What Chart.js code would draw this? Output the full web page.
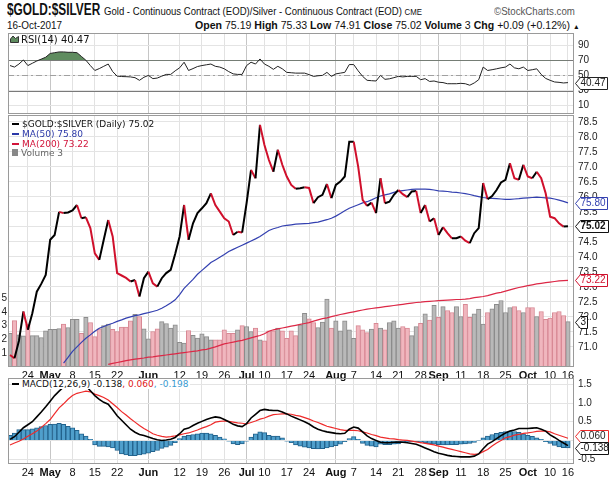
<!DOCTYPE html>
<html>
<head>
<meta charset="utf-8">
<script src="https://cdn.jsdelivr.net/npm/chart.js@4.4.1/dist/chart.umd.min.js"></script>
<style>
  body { margin: 0; width: 616px; height: 482px; position: relative; overflow: hidden; background: #fff; color: #111;
         font-family: 'Liberation Sans', Arial, sans-serif; }
  canvas { position: absolute; left: 0; }
  .txt { position: absolute; white-space: nowrap; }
  .lg { position: absolute; left: 12px; white-space: nowrap; font: 9px 'DejaVu Sans', sans-serif; line-height: 10px; }
  .ic { display: inline-block; width: 7px; height: 2px; vertical-align: middle; margin: -1px 3px 0 0; }
  .tag { position: absolute; white-space: nowrap; font: 10px 'Liberation Sans', Arial, sans-serif; line-height: 12px; }
</style>
</head>
<body>
<canvas id="rsi" width="616" height="82" style="top:32px"></canvas>
<canvas id="main" width="616" height="268" style="top:113px"></canvas>
<canvas id="macd" width="616" height="102" style="top:376px"></canvas>

<div class="txt" style="left:7px;top:1px;font-size:16px;font-weight:bold;transform:scaleX(0.74);transform-origin:0 0">$GOLD:$SILVER</div>
<div class="txt" style="left:104px;top:5px;font-size:11px;transform:scaleX(0.87);transform-origin:0 0">Gold - Continuous Contract (EOD)/Silver - Continuous Contract (EOD) <span style="font-size:9px">CME</span></div>
<div class="txt" style="right:41px;top:5px;font-size:11px;color:#555;transform:scaleX(0.88);transform-origin:100% 0">©StockCharts.com</div>
<div class="txt" style="left:7px;top:19px;font-size:11px;transform:scaleX(0.9);transform-origin:0 0">16-Oct-2017</div>
<div class="txt" style="right:36px;top:19px;font-size:11px;transform:scaleX(0.96);transform-origin:100% 0"><b>Open</b> 75.19 <b>High</b> 75.33 <b>Low</b> 74.91 <b>Close</b> 75.02 <b>Volume</b> 3 <b>Chg</b> +0.09 (+0.12%) <span style="font-size:7px">▲</span></div>

<div class="lg" style="left:10px;top:35px;font-size:10px"><svg width="9" height="8" style="margin-right:2px"><path d="M0.5 7.5 L0.5 4 L3 1 L5.5 3.5 L8.5 1.5 L8.5 7.5Z" fill="#5f8c5f" stroke="#333" stroke-width="1"/></svg>RSI(14) 40.47</div>

<div class="lg" style="top:119px"><span class="ic" style="background:#000"></span>$GOLD:$SILVER (Daily) 75.02</div>
<div class="lg" style="top:129px;color:#2b38a8"><span class="ic" style="background:#2b38a8"></span>MA(50) 75.80</div>
<div class="lg" style="top:139px;color:#d2143a"><span class="ic" style="background:#d2143a"></span>MA(200) 73.22</div>
<div class="lg" style="top:148px;color:#666"><span class="ic" style="background:#888;width:6px;height:7px;margin-top:-3px"></span>Volume 3</div>

<div class="lg" style="top:379px;background:#fff;padding-right:2px"><span class="ic" style="background:#000"></span>MACD(12,26,9) -0.138<span style="color:#e01818">, 0.060</span><span style="color:#3a9ad0">, -0.198</span></div>

<script>
// trading days shown on the chart
const monthNames = ['Apr', 'May', 'Jun', 'Jul', 'Aug', 'Sep', 'Oct'];
const monthDays = [
  [18, 19, 20, 21, 24, 25, 26, 27, 28],
  [1, 2, 3, 4, 5, 8, 9, 10, 11, 12, 15, 16, 17, 18, 19, 22, 23, 24, 25, 26, 30, 31],
  [1, 2, 5, 6, 7, 8, 9, 12, 13, 14, 15, 16, 19, 20, 21, 22, 23, 26, 27, 28, 29, 30],
  [3, 5, 6, 7, 10, 11, 12, 13, 14, 17, 18, 19, 20, 21, 24, 25, 26, 27, 28, 31],
  [1, 2, 3, 4, 7, 8, 9, 10, 11, 14, 15, 16, 17, 18, 21, 22, 23, 24, 25, 28, 29, 30, 31],
  [1, 5, 6, 7, 8, 11, 12, 13, 14, 15, 18, 19, 20, 21, 22, 25, 26, 27, 28, 29],
  [2, 3, 4, 5, 6, 10, 11, 12, 13, 16]
];
const dates = monthNames.flatMap((m, k) => monthDays[k].map(d => m + ' ' + d));

const tickDates = ['Apr 24', 'May 1', 'May 8', 'May 15', 'May 22', 'Jun 1', 'Jun 12', 'Jun 19', 'Jun 26',
  'Jul 3', 'Jul 10', 'Jul 17', 'Jul 24', 'Aug 1', 'Aug 7', 'Aug 14', 'Aug 21', 'Aug 28',
  'Sep 1', 'Sep 11', 'Sep 18', 'Sep 25', 'Oct 2', 'Oct 10', 'Oct 16'];
const tickTexts = ['24', 'May', '8', '15', '22', 'Jun', '12', '19', '26', 'Jul', '10', '17', '24', 'Aug',
  '7', '14', '21', '28', 'Sep', '11', '18', '25', 'Oct', '10', '16'];

const priceTicks = [71.0, 71.5, 72.0, 72.5, 73.0, 73.5, 74.0, 74.5, 75.0, 75.5, 76.0, 76.5, 77.0, 77.5, 78.0, 78.5];
const volTicks = [1, 2, 3, 4, 5];
const rsiTicks = [10, 30, 50, 70, 90];
const macdTicks = [-0.5, 0, 0.5, 1.0, 1.5];

const closes = [
  70.73, 70.62, 71.2, 72.18, 71.57, 72.12, 72.84, 73.1, 73.4, 74.57,
  74.73, 75.5, 75.46, 75.48, 75.55, 75.73, 75.29, 75.32, 74.96, 74.12,
  73.9, 74.57, 75.23, 74.68, 73.46, 73.38, 73.3, 73.18, 73.23, 72.68,
  73.29, 73.51, 73.12, 73.01, 73.29, 73.46, 73.57, 74.1, 74.68, 75.73,
  74.57, 75.12, 75.46, 75.62, 75.79, 76.12, 75.73, 75.51, 75.29, 75.18,
  74.73, 74.84, 74.81, 75.79, 76.9, 76.62, 78.4, 77.73, 77.23, 76.84,
  77.57, 77.07, 76.68, 76.4, 76.27, 76.29, 76.32, 76.3, 75.79, 75.99,
  76.07, 76.43, 75.96, 76.4, 76.51, 76.68, 77.84, 77.84, 77.01, 75.9,
  75.7, 75.81, 75.46, 76.62, 75.79, 75.84, 76.07, 76.23, 76.09, 75.99,
  76.18, 76.2, 75.46, 75.73, 75.18, 75.29, 74.73, 74.99, 74.79, 74.62,
  74.62, 74.68, 74.54, 74.46, 74.79, 74.96, 76.46, 75.92, 76.03, 76.23,
  76.48, 76.57, 77.12, 76.62, 76.57, 77.07, 76.68, 76.62, 76.84, 76.62,
  76.12, 75.34, 75.29, 75.12, 75.01, 75.02
];
const ma50 = [
  null, null, null, null, null, null, null, null, null, null,
  null, null, 70.46, 70.65, 70.85, 71.0, 71.15, 71.29, 71.4, 71.52,
  71.62, 71.68, 71.74, 71.79, 71.85, 71.9, 71.96, 72.0, 72.04, 72.07,
  72.11, 72.14, 72.18, 72.22, 72.29, 72.37, 72.46, 72.57, 72.74, 72.95,
  73.1, 73.25, 73.42, 73.55, 73.68, 73.81, 73.9, 73.99, 74.08, 74.18,
  74.25, 74.32, 74.39, 74.46, 74.53, 74.6, 74.68, 74.78, 74.88, 74.94,
  74.98, 75.03, 75.05, 75.07, 75.09, 75.1, 75.11, 75.12, 75.14, 75.16,
  75.2, 75.24, 75.29, 75.36, 75.45, 75.54, 75.62, 75.68, 75.74, 75.8,
  75.84, 75.9, 75.97, 76.03, 76.07, 76.1, 76.15, 76.19, 76.21, 76.23,
  76.25, 76.26, 76.26, 76.26, 76.25, 76.23, 76.2, 76.19, 76.18, 76.16,
  76.15, 76.13, 76.11, 76.08, 76.04, 76.01, 75.98, 75.96, 75.95, 75.94,
  75.93, 75.92, 75.92, 75.93, 75.94, 75.96, 75.97, 75.98, 75.99, 75.98,
  75.97, 75.96, 75.93, 75.89, 75.85, 75.8
];
const ma200 = [
  null, null, null, null, null, null, null, null, null, null,
  null, null, null, null, null, null, null, null, null, null,
  null, null, 70.42, 70.45, 70.48, 70.51, 70.54, 70.57, 70.59, 70.61,
  70.63, 70.66, 70.67, 70.69, 70.71, 70.73, 70.75, 70.77, 70.79, 70.81,
  70.83, 70.85, 70.87, 70.9, 70.92, 70.96, 71.0, 71.05, 71.1, 71.13,
  71.16, 71.19, 71.22, 71.26, 71.3, 71.34, 71.38, 71.44, 71.52, 71.57,
  71.6, 71.63, 71.66, 71.69, 71.72, 71.75, 71.78, 71.81, 71.86, 71.9,
  71.94, 71.97, 72.01, 72.04, 72.08, 72.11, 72.14, 72.17, 72.2, 72.23,
  72.26, 72.28, 72.3, 72.32, 72.34, 72.36, 72.38, 72.4, 72.42, 72.44,
  72.46, 72.48, 72.49, 72.51, 72.52, 72.53, 72.54, 72.55, 72.56, 72.57,
  72.58, 72.58, 72.59, 72.61, 72.64, 72.66, 72.68, 72.71, 72.75, 72.79,
  72.82, 72.86, 72.9, 72.94, 72.98, 73.01, 73.04, 73.07, 73.1, 73.12,
  73.14, 73.16, 73.18, 73.2, 73.21, 73.22
];
const volumes = [
  2.45, 3.37, 2.33, 2.26, 3.11, 2.28, 2.28, 2.14, 2.62, 2.74,
  2.74, 2.79, 3.11, 2.87, 3.47, 3.47, 2.45, 3.6, 3.23, 2.21,
  2.77, 3.01, 3.11, 2.74, 2.58, 2.89, 2.89, 3.35, 3.83, 3.67,
  2.77, 2.04, 2.58, 2.77, 3.3, 3.16, 2.82, 3.06, 1.8, 1.73,
  2.65, 2.3, 2.1, 2.4, 2.21, 1.97, 1.97, 1.97, 2.7, 2.45,
  2.45, 2.7, 3.01, 2.94, 2.58, 2.82, 1.97, 1.9, 2.62, 2.62,
  2.82, 2.62, 2.09, 2.62, 2.28, 3.06, 3.89, 3.5, 3.23, 2.87,
  3.26, 4.93, 2.82, 3.35, 2.62, 3.35, 2.7, 2.09, 3.01, 2.7,
  2.5, 2.76, 3.18, 2.82, 2.7, 3.23, 3.35, 2.82, 2.94, 2.82,
  2.28, 2.94, 3.18, 3.86, 3.4, 4.47, 3.6, 4.39, 4.1, 3.96,
  4.39, 3.67, 4.55, 3.6, 3.86, 4.2, 3.11, 3.96, 4.22, 4.55,
  4.83, 3.96, 4.32, 4.39, 4.1, 3.96, 4.32, 4.32, 3.67, 4.03,
  3.47, 3.55, 3.96, 4.03, 3.74, 3.3
];
const rsi = [
  63, 61, 65, 70.4, 63, 66, 69, 71.5, 74, 79,
  80, 81, 81, 80.5, 80.5, 80, 75, 70, 63, 56.5,
  59, 62, 65, 55, 49, 48.5, 48.3, 48, 47, 43.5,
  47.5, 50, 45.7, 46.5, 49, 51.3, 51.3, 56, 60, 67.4,
  56.5, 59, 61.7, 63, 64, 65, 62, 61, 58.7, 55,
  52, 51.3, 51.3, 63, 67.4, 65, 71.7, 65, 62, 58,
  62, 58.7, 54, 53.5, 53, 53, 53, 51, 48.7, 49.5,
  50, 54, 48.7, 52, 53, 54, 64.3, 64.3, 56, 48.7,
  43.5, 43, 42.6, 50, 44.8, 45.5, 47, 48.7, 48, 48.7,
  48.7, 48.7, 44.3, 45.7, 42, 42.6, 41, 40.5, 39, 39,
  39, 39.5, 39, 37, 40, 44.3, 61, 56.5, 57.5, 58.7,
  60, 61, 65, 60, 58.7, 61, 56.5, 57.5, 58.7, 51.3,
  46, 43.5, 41.3, 40.8, 40, 40.47
];
const macd = [
  0.03, 0.1, 0.22, 0.34, 0.42, 0.5, 0.63, 0.76, 0.9, 1.05,
  1.2, 1.32, 1.43, 1.53, 1.6, 1.6, 1.55, 1.46, 1.33, 1.2,
  1.1, 1.02, 0.97, 0.82, 0.66, 0.54, 0.42, 0.3, 0.22, 0.16,
  0.13, 0.09, 0.05, 0.02, 0.0, 0.01, 0.03, 0.08, 0.18, 0.3,
  0.33, 0.4, 0.46, 0.51, 0.56, 0.6, 0.63, 0.61, 0.56, 0.5,
  0.43, 0.39, 0.37, 0.45, 0.6, 0.7, 0.8, 0.83, 0.81, 0.8,
  0.8, 0.76, 0.71, 0.65, 0.6, 0.55, 0.5, 0.44, 0.36, 0.3,
  0.26, 0.23, 0.21, 0.19, 0.18, 0.19, 0.3, 0.36, 0.33, 0.23,
  0.12, 0.05, 0.0, -0.05, -0.06, -0.06, -0.05, -0.04, -0.05, -0.06,
  -0.08, -0.1, -0.15, -0.2, -0.25, -0.3, -0.34, -0.37, -0.4, -0.42,
  -0.43, -0.44, -0.44, -0.44, -0.42, -0.36, -0.22, -0.1, -0.03, 0.05,
  0.13, 0.2, 0.25, 0.28, 0.32, 0.32, 0.32, 0.33, 0.34, 0.3,
  0.25, 0.15, 0.08, 0.0, -0.07, -0.138
];
const signal = [
  -0.12, -0.07, -0.02, 0.04, 0.11, 0.18, 0.25, 0.35, 0.45, 0.56,
  0.72, 0.87, 0.98, 1.1, 1.2, 1.26, 1.29, 1.32, 1.3, 1.24,
  1.2, 1.15, 1.08, 0.98, 0.88, 0.77, 0.68, 0.58, 0.49, 0.4,
  0.32, 0.25, 0.18, 0.14, 0.11, 0.09, 0.1, 0.12, 0.15, 0.18,
  0.2, 0.24, 0.28, 0.33, 0.37, 0.42, 0.49, 0.51, 0.52, 0.51,
  0.49, 0.47, 0.46, 0.44, 0.48, 0.52, 0.57, 0.6, 0.65, 0.69,
  0.7, 0.71, 0.71, 0.7, 0.67, 0.65, 0.61, 0.57, 0.52, 0.48,
  0.43, 0.38, 0.35, 0.32, 0.29, 0.27, 0.27, 0.27, 0.26, 0.23,
  0.2, 0.16, 0.13, 0.09, 0.07, 0.05, 0.04, 0.02, 0.01, 0.0,
  -0.02, -0.04, -0.06, -0.08, -0.1, -0.12, -0.15, -0.18, -0.21, -0.24,
  -0.27, -0.3, -0.33, -0.36, -0.37, -0.36, -0.3, -0.24, -0.15, -0.07,
  0.0, 0.07, 0.1, 0.14, 0.16, 0.19, 0.2, 0.22, 0.24, 0.25,
  0.25, 0.23, 0.18, 0.14, 0.1, 0.06
];
const hist = [
  0.14, 0.2, 0.29, 0.29, 0.29, 0.31, 0.34, 0.37, 0.4, 0.43,
  0.44, 0.46, 0.43, 0.38, 0.34, 0.27, 0.18, 0.12, 0.03, -0.12,
  -0.16, -0.16, -0.17, -0.2, -0.27, -0.36, -0.39, -0.41, -0.41, -0.39,
  -0.37, -0.34, -0.3, -0.27, -0.21, -0.18, -0.13, -0.06, 0.05, 0.12,
  0.14, 0.16, 0.18, 0.2, 0.2, 0.18, 0.14, 0.09, 0.04, -0.02,
  -0.09, -0.11, -0.09, -0.02, 0.09, 0.18, 0.23, 0.21, 0.14, 0.12,
  0.12, 0.07, -0.02, -0.06, -0.12, -0.15, -0.18, -0.2, -0.22, -0.23,
  -0.22, -0.2, -0.17, -0.14, -0.1, -0.03, 0.05, 0.1, 0.03, -0.08,
  -0.13, -0.15, -0.17, -0.1, -0.11, -0.11, -0.1, -0.09, -0.05, -0.04,
  -0.03, -0.03, -0.04, -0.06, -0.09, -0.1, -0.11, -0.12, -0.12, -0.11,
  -0.11, -0.1, -0.09, -0.08, -0.05, -0.01, 0.07, 0.12, 0.16, 0.19,
  0.22, 0.24, 0.25, 0.24, 0.22, 0.18, 0.14, 0.11, 0.07, 0.03,
  -0.03, -0.08, -0.13, -0.17, -0.19, -0.198
];

const idx = dates.map((d, i) => i);
const tickIdx = tickDates.map(d => dates.indexOf(d));
const monthTicks = new Set(tickIdx.filter((v, k) => isNaN(tickTexts[k])));
const X_MIN = -0.45, X_MAX = 126.35;
const FONT = "'Liberation Sans', Arial, sans-serif";
const RED = '#d0102c';

const down = i => i > 0 && closes[i] < closes[i - 1];
const volFill = volumes.map((v, i) => down(i) ? '#f0b6be' : '#b9b9b9');
const volEdge = volumes.map((v, i) => down(i) ? '#d88894' : '#8c8c8c');

// keep the panel edges exactly where the layout puts them
function noPad(s) { s.paddingTop = 0; s.paddingBottom = 0; s.paddingLeft = 0; s.paddingRight = 0; }

function xAxis(labels) {
  return {
    type: 'linear', min: X_MIN, max: X_MAX, offset: false,
    afterBuildTicks: s => { s.ticks = tickIdx.map(v => ({ value: v })); },
    afterFit: s => { s.height = labels ? 14 : 0; noPad(s); },
    ticks: {
      display: labels, autoSkip: false, maxRotation: 0, minRotation: 0, padding: 2, color: '#111',
      font: c => ({ family: FONT, size: 11, weight: c.tick && monthTicks.has(c.tick.value) ? 'bold' : 'normal' }),
      callback: (v, i) => tickTexts[i]
    },
    grid: { color: c => c.tick && monthTicks.has(c.tick.value) ? '#c6c6c6' : '#e2e2e2', drawTicks: false, offset: false },
    border: { display: false }
  };
}

function yRight(min, max, ticks, fmt) {
  return {
    position: 'right', min, max,
    afterBuildTicks: s => { s.ticks = ticks.map(v => ({ value: v })); },
    afterFit: s => { s.width = 42; noPad(s); },
    ticks: { padding: 4, color: '#222', font: { family: FONT, size: 10 }, callback: fmt },
    grid: { color: '#e4e4e4', drawTicks: false },
    border: { display: false }
  };
}

const framePlugin = {
  id: 'frame',
  afterDraw(chart) {
    const a = chart.chartArea, ctx = chart.ctx;
    ctx.save();
    ctx.strokeStyle = '#9a9a9a';
    ctx.lineWidth = 1;
    ctx.strokeRect(Math.round(a.left) + 0.5, Math.round(a.top) + 0.5, Math.round(a.width) - 1, Math.round(a.height) - 1);
    ctx.restore();
  }
};

// overbought / oversold lines of the RSI panel
const levelPlugin = {
  id: 'levels',
  beforeDatasetsDraw(chart) {
    const a = chart.chartArea, ctx = chart.ctx, y = chart.scales.y;
    const lines = [[70, '#7a7a7a', []], [30, '#7a7a7a', []], [50, '#a0a0a0', [6, 3, 2, 3]]];
    ctx.save();
    lines.forEach(([v, col, dash]) => {
      const py = Math.round(y.getPixelForValue(v)) + 0.5;
      ctx.strokeStyle = col; ctx.setLineDash(dash); ctx.lineWidth = 1;
      ctx.beginPath(); ctx.moveTo(a.left, py); ctx.lineTo(a.right, py); ctx.stroke();
    });
    ctx.restore();
  }
};

// value tags on the right edge of each panel
function tagPlugin(items) {
  return {
    id: 'tags',
    afterDraw(chart) {
      const ctx = chart.ctx, a = chart.chartArea;
      items.forEach(t => {
        const y = Math.round(chart.scales[t.axis].getPixelForValue(t.value) + (t.dy || 0)) + 0.5;
        const x0 = Math.round(a.right) + 1.5, x2 = x0 + t.w;
        ctx.save();
        ctx.beginPath();
        ctx.moveTo(x0, y); ctx.lineTo(x0 + 5, y - 6); ctx.lineTo(x2, y - 6);
        ctx.lineTo(x2, y + 6); ctx.lineTo(x0 + 5, y + 6); ctx.closePath();
        ctx.fillStyle = '#fff'; ctx.fill();
        ctx.lineWidth = 1; ctx.strokeStyle = t.color; ctx.stroke();
        ctx.restore();
        if (!t.el) {
          t.el = document.createElement('div');
          t.el.className = 'tag';
          t.el.textContent = t.text;
          t.el.style.color = t.textColor || t.color;
          if (t.bold) t.el.style.fontWeight = 'bold';
          document.body.appendChild(t.el);
        }
        t.el.style.left = (x0 + 5) + 'px';
        t.el.style.top = (chart.canvas.offsetTop + y - 6.5) + 'px';
      });
    }
  };
}

const common = {
  responsive: false,
  animation: false,
  events: [],
  plugins: { legend: { display: false }, tooltip: { enabled: false } }
};

new Chart(document.getElementById('rsi'), {
  type: 'line',
  data: {
    labels: idx,
    datasets: [{
      data: rsi, borderColor: '#222', borderWidth: 1, pointRadius: 0,
      fill: { target: { value: 70 }, above: '#5f8c5f', below: 'rgba(0,0,0,0)' }
    }]
  },
  options: {
    ...common,
    layout: { padding: { left: 8, top: 1 } },
    scales: { x: xAxis(false), y: yRight(-1, 106, rsiTicks, v => v) }
  },
  plugins: [levelPlugin, framePlugin, tagPlugin([{ axis: 'y', value: 40.47, text: '40.47', color: '#222', w: 32 }])]
});

new Chart(document.getElementById('main'), {
  type: 'line',
  data: {
    labels: idx,
    datasets: [
      {
        type: 'bar', data: volumes, yAxisID: 'vol', order: 5,
        backgroundColor: volFill, borderColor: volEdge, borderWidth: 1,
        barPercentage: 1, categoryPercentage: 1
      },
      { data: ma200, yAxisID: 'y', borderColor: '#dc2846', borderWidth: 1.2, pointRadius: 0, order: 3 },
      { data: ma50, yAxisID: 'y', borderColor: '#3340b0', borderWidth: 1.2, pointRadius: 0, order: 2 },
      {
        data: closes, yAxisID: 'y', borderColor: '#000', borderWidth: 2, pointRadius: 0, order: 1,
        segment: { borderColor: c => c.p1.parsed.y < c.p0.parsed.y ? RED : '#000' }
      }
    ]
  },
  options: {
    ...common,
    layout: { padding: { top: 2 } },
    scales: {
      x: xAxis(true),
      y: yRight(70.33, 78.73, priceTicks, v => v.toFixed(1)),
      vol: {
        position: 'left', min: 0, max: 18.3,
        afterBuildTicks: s => { s.ticks = volTicks.map(v => ({ value: v })); },
        afterFit: s => { s.width = 8; noPad(s); },
        ticks: { padding: 1, color: '#222', font: { family: FONT, size: 10 } },
        grid: { display: false, drawTicks: false },
        border: { display: false }
      }
    }
  },
  plugins: [framePlugin, tagPlugin([
    { axis: 'y', value: 75.80, text: '75.80', color: '#3340b0', w: 32 },
    { axis: 'y', value: 75.02, text: '75.02', color: '#111', w: 33, bold: true },
    { axis: 'y', value: 73.22, text: '73.22', color: '#d0102c', w: 32 },
    { axis: 'vol', value: volumes[volumes.length - 1], text: '3', color: '#111', w: 12 }
  ])]
});

new Chart(document.getElementById('macd'), {
  type: 'line',
  data: {
    labels: idx,
    datasets: [
      {
        type: 'bar', data: hist, order: 5,
        backgroundColor: '#4f9fcc', borderColor: '#22628c', borderWidth: 1,
        barPercentage: 1, categoryPercentage: 1
      },
      { data: signal, borderColor: '#ee2a2a', borderWidth: 1.2, pointRadius: 0, order: 2 },
      { data: macd, borderColor: '#000', borderWidth: 1.6, pointRadius: 0, order: 1 }
    ]
  },
  options: {
    ...common,
    layout: { padding: { left: 8, top: 2 } },
    scales: {
      x: xAxis(true),
      y: yRight(-0.63, 1.67, macdTicks, v => v === 0 ? '' : v.toFixed(1))
    }
  },
  plugins: [framePlugin, tagPlugin([
    { axis: 'y', value: 0.060, text: '0.060', color: '#ee2a2a', textColor: '#222', w: 33, dy: -2 },
    { axis: 'y', value: -0.138, text: '-0.138', color: '#111', w: 33, dy: 2 }
  ])]
});
</script>
</body>
</html>
